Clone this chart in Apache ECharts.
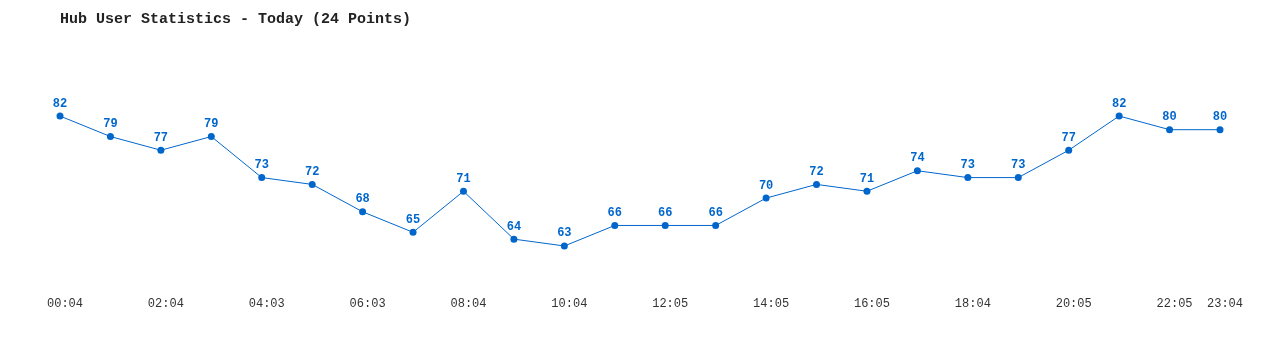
<!DOCTYPE html>
<html><head><meta charset="utf-8">
<script src="https://cdn.jsdelivr.net/npm/echarts@6/dist/echarts.min.js"></script>
<style>html,body{margin:0;padding:0;background:#fff}#c{width:1280px;height:350px}</style>
</head><body><div id="c"></div>
<script>
const categories = ["00:04","01:04","02:04","03:04","04:03","05:03","06:03","07:03","08:04","09:04","10:04","11:04","12:05","13:05","14:05","15:05","16:05","17:05","18:04","19:04","20:05","21:05","22:05","23:04"];
const users = [82,79,77,79,73,72,68,65,71,64,63,66,66,66,70,72,71,74,73,73,77,82,80,80];
const shownLabels = [0,2,4,6,8,10,12,14,16,18,20,22,23];

const chart = echarts.init(document.getElementById('c'));
chart.setOption({
  animation: false,
  title: {
    text: 'Hub User Statistics - Today (24 Points)',
    left: 55, top: 7,
    textStyle: { fontFamily: 'Liberation Mono', fontSize: 15, fontWeight: 'bold', color: '#222' }
  },
  grid: { left: 60, right: 60, top: 95.5, height: 171 },
  xAxis: {
    type: 'category', data: categories, boundaryGap: false,
    axisLine: { show: false }, axisTick: { show: false }, splitLine: { show: false },
    axisLabel: {
      interval: (i) => shownLabels.includes(i),
      margin: 31, padding: [0,0,0,10],
      fontFamily: 'Liberation Mono', fontSize: 12, color: '#333'
    }
  },
  yAxis: { type: 'value', min: 60, max: 85, show: false, splitLine: { show: false } },
  series: [{
    type: 'line', data: users,
    symbol: 'circle', symbolSize: 7,
    lineStyle: { color: '#0066cc', width: 1 },
    itemStyle: { color: '#0066cc' },
    label: { show: true, position: 'top', distance: 3, color: '#0066cc',
      fontFamily: 'Liberation Mono', fontSize: 12, fontWeight: 'bold' }
  }]
});
</script></body></html>
